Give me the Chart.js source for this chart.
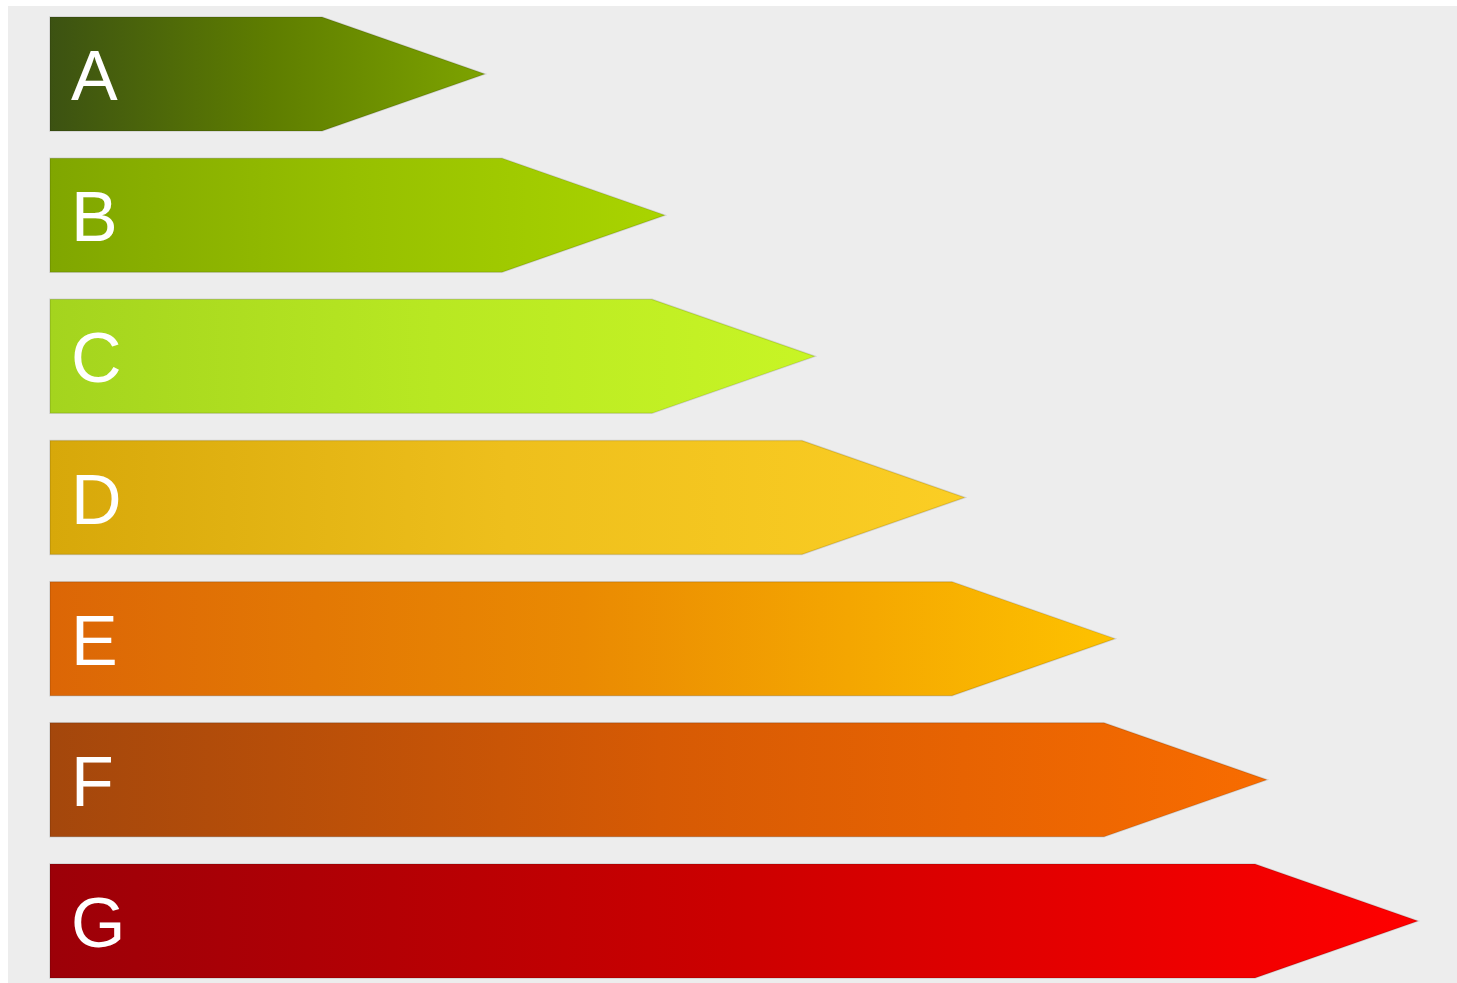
<!DOCTYPE html>
<html>
<head>
<meta charset="utf-8">
<script src="https://cdn.jsdelivr.net/npm/chart.js@4/dist/chart.umd.min.js"></script>
<style>
  html, body { margin: 0; padding: 0; background: #ffffff; overflow: hidden; }
  #c { display: block; }
</style>
</head>
<body>
<canvas id="c" width="1457" height="983"></canvas>
<script>
// ---- data ----
const categories = ["A", "B", "C", "D", "E", "F", "G"];
// full arrow length (to the tip) of each class
const arrowLengths = [435, 615, 765, 915, 1065, 1217, 1368];
// gradient colours (left -> right) for each class
const colorsStart = ["#3c5212", "#80a600", "#a4d41e", "#d7a80a", "#dc6606", "#a4470c", "#9c0008"];
const colorsMid   = ["#5e7d00", "#97c000", "#b8e822", "#eebf1c", "#ea8a02", "#d65a04", "#cc0000"];
const colorsEnd   = ["#7da300", "#a9d400", "#c8f525", "#fbce24", "#fec200", "#f86c00", "#ff0000"];

const TIP = 163;

const backgroundPlugin = {
  id: 'bg',
  beforeDraw(chart) {
    const ctx = chart.ctx;
    ctx.save();
    ctx.fillStyle = '#ffffff';
    ctx.fillRect(0, 0, chart.width, chart.height);
    ctx.fillStyle = '#ededed';
    ctx.fillRect(8, 6, chart.width - 8, chart.height - 6);
    ctx.restore();
  }
};

const arrowPlugin = {
  id: 'arrows',
  afterDatasetsDraw(chart) {
    const ctx = chart.ctx;
    const meta = chart.getDatasetMeta(0);
    meta.data.forEach((bar, i) => {
      const p = bar.getProps(['x', 'y', 'base', 'height'], true);
      const x0 = p.base, x1 = p.x, yc = p.y, h = p.height;
      const top = yc - h / 2, bot = yc + h / 2;
      const g = ctx.createLinearGradient(x0, 0, x1, 0);
      g.addColorStop(0, colorsStart[i]);
      g.addColorStop(0.5, colorsMid[i]);
      g.addColorStop(1, colorsEnd[i]);
      ctx.save();
      ctx.beginPath();
      ctx.moveTo(x0, top);
      ctx.lineTo(x1 - TIP, top);
      ctx.lineTo(x1, yc);
      ctx.lineTo(x1 - TIP, bot);
      ctx.lineTo(x0, bot);
      ctx.closePath();
      ctx.fillStyle = g;
      ctx.fill();
      ctx.lineWidth = 1.5;
      ctx.strokeStyle = 'rgba(0,0,0,0.12)';
      ctx.stroke();
      // label
      ctx.fillStyle = '#ffffff';
      ctx.font = '70px "Liberation Sans", Arial, sans-serif';
      ctx.textAlign = 'left';
      ctx.textBaseline = 'alphabetic';
      ctx.fillText(chart.data.labels[i], x0 + 21, yc + 26);
      ctx.restore();
    });
  }
};

new Chart(document.getElementById('c'), {
  type: 'bar',
  data: {
    labels: categories,
    datasets: [{
      data: arrowLengths,
      backgroundColor: 'rgba(0,0,0,0)',
      borderWidth: 0,
      barThickness: 114,
      clip: false
    }]
  },
  options: {
    indexAxis: 'y',
    responsive: false,
    animation: false,
    devicePixelRatio: 1,
    layout: { padding: { left: 50, right: 0, top: 74, bottom: 62 } },
    plugins: { legend: { display: false }, tooltip: { enabled: false } },
    scales: {
      x: { display: false, min: 0, max: 1407 },
      y: { display: false, offset: false }
    }
  },
  plugins: [backgroundPlugin, arrowPlugin]
});
</script>
</body>
</html>
